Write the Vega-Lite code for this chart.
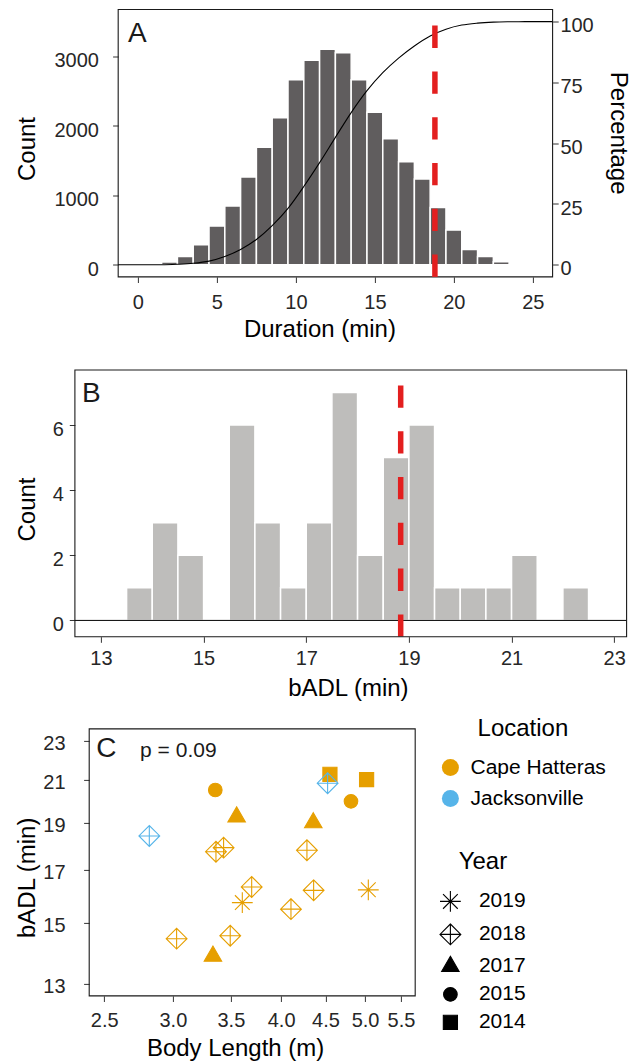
{
  "$schema": "https://vega.github.io/schema/vega-lite/v6.json",
  "background": "white",
  "padding": {"left": 14.9, "top": 8.5, "right": 0, "bottom": 0},
  "columns": 1,
  "spacing": 26.4,
  "resolve": {"legend": {"fill": "independent", "stroke": "independent", "shape": "independent", "size": "independent"}},
  "config": {
    "font": "Liberation Sans",
    "view": {"stroke": null},
    "axis": {"domain": false, "grid": false, "tickColor": "#333333", "tickWidth": 1, "tickSize": 5.6, "labelColor": "#262626", "labelFontSize": 20, "titleFontSize": 24, "titleFontWeight": "normal", "titleColor": "#000000", "labelFlush": false, "labelOverlap": false, "titlePadding": 0},
    "legend": {"titleFontSize": 24, "titleFontWeight": "normal", "titleColor": "#000000", "labelFontSize": 21, "labelColor": "#000000", "padding": 0, "titleAnchor": "middle", "titleAlign": "center", "titleBaseline": "middle"}
  },
  "concat": [
    {
      "columns": 1,
      "spacing": 27.5,
      "concat": [
        {
          "width": 477.7,
          "height": 267.4,
          "layer": [
            {
              "layer": [
                {
                  "data": {"values": [
                    {"start": 1.5, "end": 2.5, "count": 40}, {"start": 2.5, "end": 3.5, "count": 120}, {"start": 3.5, "end": 4.5, "count": 288}, {"start": 4.5, "end": 5.5, "count": 557}, {"start": 5.5, "end": 6.5, "count": 845}, {"start": 6.5, "end": 7.5, "count": 1263}, {"start": 7.5, "end": 8.5, "count": 1690}, {"start": 8.5, "end": 9.5, "count": 2117}, {"start": 9.5, "end": 10.5, "count": 2664}, {"start": 10.5, "end": 11.5, "count": 2943}, {"start": 11.5, "end": 12.5, "count": 3101}, {"start": 12.5, "end": 13.5, "count": 3053}, {"start": 13.5, "end": 14.5, "count": 2664}, {"start": 14.5, "end": 15.5, "count": 2194}, {"start": 15.5, "end": 16.5, "count": 1815}, {"start": 16.5, "end": 17.5, "count": 1483}, {"start": 17.5, "end": 18.5, "count": 1234}, {"start": 18.5, "end": 19.5, "count": 826}, {"start": 19.5, "end": 20.5, "count": 499}, {"start": 20.5, "end": 21.5, "count": 221}, {"start": 21.5, "end": 22.5, "count": 120}, {"start": 22.5, "end": 23.5, "count": 43}, {"start": 23.5, "end": 24.5, "count": 5}
                  ]},
                  "mark": {"type": "rect", "fill": "#605d5e", "stroke": "#ffffff", "strokeWidth": 1.5},
                  "encoding": {
                    "x": {"field": "start", "type": "quantitative", "scale": {"domain": [-3.9905, 26.25], "nice": false, "zero": false},
                      "axis": {"values": [0, 5, 10, 15, 20, 25], "title": "Duration (min)", "titleX": 244.5, "labelPadding": 9.5, "minExtent": 40.5, "maxExtent": 40.5}},
                    "x2": {"field": "end"},
                    "y": {"field": "count", "type": "quantitative", "scale": {"domain": [-175, 3675], "nice": false, "zero": false},
                      "axis": {"orient": "left", "offset": -43.3, "values": [0, 1000, 2000, 3000], "format": "d", "title": "Count", "titleY": 139, "labelPadding": 14.2, "labelOffset": 4.5, "minExtent": 78.4, "maxExtent": 78.4}},
                    "y2": {"datum": 0}
                  }
                },
                {
                  "data": {"values": [{"label": "A"}]},
                  "mark": {"type": "text", "align": "left", "baseline": "alphabetic", "fontSize": 28, "color": "#1a1a1a"},
                  "encoding": {"x": {"datum": -0.63}, "y": {"datum": 3207}, "text": {"field": "label"}}
                },
                {
                  "data": {"values": [{"panel": "A"}]},
                  "mark": {"type": "rect", "filled": false, "color": "#1a1a1a", "strokeWidth": 1.1},
                  "encoding": {"x": {"datum": -1.25}, "x2": {"datum": 26.25}, "y": {"datum": -175}, "y2": {"datum": 3675}}
                }
              ]
            },
            {
              "layer": [
                {
                  "data": {"values": [
                    {"x": -1.25, "pct": 0}, {"x": 1.5, "pct": 0}, {"x": 2.5, "pct": 0.2}, {"x": 3.5, "pct": 0.6}, {"x": 4.5, "pct": 1.5}, {"x": 5.5, "pct": 3.4}, {"x": 6.5, "pct": 6.3}, {"x": 7.5, "pct": 10.4}, {"x": 8.5, "pct": 16.1}, {"x": 9.5, "pct": 23.2}, {"x": 10.5, "pct": 32.2}, {"x": 11.5, "pct": 42.0}, {"x": 12.5, "pct": 52.4}, {"x": 13.5, "pct": 62.6}, {"x": 14.5, "pct": 71.6}, {"x": 15.5, "pct": 79.0}, {"x": 16.5, "pct": 85.0}, {"x": 17.5, "pct": 90.0}, {"x": 18.5, "pct": 94.1}, {"x": 19.5, "pct": 96.9}, {"x": 20.5, "pct": 98.6}, {"x": 21.5, "pct": 99.4}, {"x": 22.5, "pct": 99.8}, {"x": 23.5, "pct": 99.95}, {"x": 24.5, "pct": 100}, {"x": 26.25, "pct": 100}
                  ]},
                  "mark": {"type": "line", "color": "#000000", "strokeWidth": 1.1, "interpolate": "monotone", "clip": true},
                  "encoding": {
                    "x": {"field": "x", "type": "quantitative"},
                    "y": {"field": "pct", "type": "quantitative", "scale": {"domain": [-5, 105], "nice": false, "zero": false},
                      "axis": {"orient": "right", "values": [0, 25, 50, 75, 100], "title": "Percentage", "titleY": 123.2, "labelPadding": 1.7, "labelOffset": 4.2, "minExtent": 53.3, "maxExtent": 53.3}}
                  }
                },
                {
                  "data": {"values": [{"bADL": 18.8}]},
                  "mark": {"type": "rule", "color": "#e31f1f", "strokeWidth": 5.5, "strokeDash": [22.3, 23.5], "clip": true},
                  "encoding": {"x": {"field": "bADL", "type": "quantitative"}, "y": {"datum": -5}, "y2": {"datum": 105}}
                }
              ]
            }
          ],
          "resolve": {"scale": {"y": "independent"}}
        },
        {
          "width": 551.7,
          "height": 266.7,
          "layer": [
            {
              "data": {"values": [
                {"start": 13.5, "end": 14.0, "count": 1}, {"start": 14.0, "end": 14.5, "count": 3}, {"start": 14.5, "end": 15.0, "count": 2}, {"start": 15.5, "end": 16.0, "count": 6}, {"start": 16.0, "end": 16.5, "count": 3}, {"start": 16.5, "end": 17.0, "count": 1}, {"start": 17.0, "end": 17.5, "count": 3}, {"start": 17.5, "end": 18.0, "count": 7}, {"start": 18.0, "end": 18.5, "count": 2}, {"start": 18.5, "end": 19.0, "count": 5}, {"start": 19.0, "end": 19.5, "count": 6}, {"start": 19.5, "end": 20.0, "count": 1}, {"start": 20.0, "end": 20.5, "count": 1}, {"start": 20.5, "end": 21.0, "count": 1}, {"start": 21.0, "end": 21.5, "count": 2}, {"start": 22.0, "end": 22.5, "count": 1}
              ]},
              "mark": {"type": "rect", "fill": "#bebdbb", "stroke": "#ffffff", "strokeWidth": 1.5},
              "encoding": {
                "x": {"field": "start", "type": "quantitative", "scale": {"domain": [12.493, 23.241], "nice": false, "zero": false},
                  "axis": {"values": [13, 15, 17, 19, 21, 23], "title": "bADL (min)", "titleX": 273, "labelPadding": 6.2, "minExtent": 40.2, "maxExtent": 40.2}},
                "x2": {"field": "end"},
                "y": {"field": "count", "type": "quantitative", "scale": {"domain": [-0.5, 7.69], "nice": false, "zero": false},
                  "axis": {"values": [0, 2, 4, 6], "title": "Count", "titleY": 139, "labelPadding": 5.9, "labelOffset": 4.2, "minExtent": 35.1, "maxExtent": 35.1}},
                "y2": {"datum": 0}
              }
            },
            {
              "data": {"values": [{"level": 0}]},
              "mark": {"type": "rule", "color": "#000000", "strokeWidth": 1},
              "encoding": {"y": {"field": "level", "type": "quantitative"}}
            },
            {
              "data": {"values": [{"bADL": 18.84}]},
              "mark": {"type": "rule", "color": "#e31f1f", "strokeWidth": 5.5, "strokeDash": [22.3, 23.5], "clip": true},
              "encoding": {"x": {"field": "bADL", "type": "quantitative"}, "y": {"datum": -0.5}, "y2": {"datum": 7.69}}
            },
            {
              "data": {"values": [{"label": "B"}]},
              "mark": {"type": "text", "align": "left", "baseline": "alphabetic", "fontSize": 28, "color": "#1a1a1a"},
              "encoding": {"x": {"datum": 12.63}, "y": {"datum": 6.72}, "text": {"field": "label"}}
            },
            {
              "data": {"values": [{"panel": "B"}]},
              "mark": {"type": "rect", "filled": false, "color": "#1a1a1a", "strokeWidth": 1.1},
              "encoding": {"x": {"datum": 12.493}, "x2": {"datum": 23.241}, "y": {"datum": -0.5}, "y2": {"datum": 7.69}}
            }
          ]
        }
      ]
    },
    {
      "width": 340.3,
      "height": 267,
      "layer": [
        {
          "data": {"values": [
            {"location": "Cape Hatteras", "year": "2015", "length": 3.358, "badl": 20.51},
            {"location": "Cape Hatteras", "year": "2015", "length": 4.816, "badl": 19.97},
            {"location": "Cape Hatteras", "year": "2017", "length": 3.554, "badl": 19.25},
            {"location": "Cape Hatteras", "year": "2017", "length": 3.337, "badl": 13.88},
            {"location": "Cape Hatteras", "year": "2017", "length": 4.357, "badl": 18.99},
            {"location": "Cape Hatteras", "year": "2018", "length": 3.364, "badl": 17.74},
            {"location": "Cape Hatteras", "year": "2018", "length": 3.433, "badl": 17.91},
            {"location": "Cape Hatteras", "year": "2018", "length": 3.699, "badl": 16.33},
            {"location": "Cape Hatteras", "year": "2018", "length": 3.030, "badl": 14.46},
            {"location": "Cape Hatteras", "year": "2018", "length": 3.494, "badl": 14.56},
            {"location": "Cape Hatteras", "year": "2018", "length": 4.106, "badl": 15.50},
            {"location": "Cape Hatteras", "year": "2018", "length": 4.361, "badl": 16.20},
            {"location": "Cape Hatteras", "year": "2018", "length": 4.284, "badl": 17.80},
            {"location": "Cape Hatteras", "year": "2019", "length": 3.608, "badl": 15.74},
            {"location": "Cape Hatteras", "year": "2019", "length": 5.043, "badl": 16.22},
            {"location": "Cape Hatteras", "year": "2014", "length": 4.554, "badl": 21.28},
            {"location": "Cape Hatteras", "year": "2014", "length": 5.020, "badl": 21.02},
            {"location": "Jacksonville", "year": "2018", "length": 2.818, "badl": 18.41},
            {"location": "Jacksonville", "year": "2018", "length": 4.526, "badl": 20.84}
          ]},
          "mark": {"type": "point", "filled": true, "opacity": 1, "strokeWidth": 1.1},
          "encoding": {
            "x": {"field": "length", "type": "quantitative", "scale": {"type": "log", "domain": [2.3124, 5.712], "nice": false, "zero": false},
              "axis": {"values": [2.5, 3, 3.5, 4, 4.5, 5, 5.5], "format": ".1f", "title": "Body Length (m)", "titleX": 160.2, "labelPadding": 9.3, "minExtent": 41, "maxExtent": 41}},
            "y": {"field": "badl", "type": "quantitative", "scale": {"type": "log", "domain": [12.64, 23.68], "nice": false, "zero": false},
              "axis": {"offset": -14.3, "values": [13, 15, 17, 19, 21, 23], "title": "bADL (min)", "titleY": 148.4, "labelPadding": 18.6, "labelOffset": 2.6, "minExtent": 49.4, "maxExtent": 49.4}},
            "size": {"field": "location", "type": "nominal", "scale": {"domain": ["Cape Hatteras", "Jacksonville"], "range": [289, 289]},
              "legend": {"title": "Location", "orient": "right", "offset": 24.1, "titlePadding": 4.2, "labelOffset": 9.6, "symbolType": "circle", "symbolStrokeWidth": 0, "rowPadding": 9}},
            "fill": {"field": "location", "type": "nominal", "scale": {"domain": ["Cape Hatteras", "Jacksonville"], "range": ["#E69F00", "#56B4E9"]},
              "legend": {"title": "Location", "orient": "right", "offset": 24.1, "titlePadding": 4.2, "labelOffset": 9.6, "symbolType": "circle", "symbolStrokeWidth": 0, "rowPadding": 9}},
            "stroke": {"field": "location", "type": "nominal", "scale": {"domain": ["Cape Hatteras", "Jacksonville"], "range": ["#E69F00", "#56B4E9"]}, "legend": null},
            "shape": {"field": "year", "type": "nominal",
              "scale": {"domain": ["2019", "2018", "2017", "2015", "2014"], "range": [
                "M-1.2235,0L1.2235,0M0,-1.2235L0,1.2235M-0.8652,-0.8652L0.8652,0.8652M-0.8652,0.8652L0.8652,-0.8652",
                "M0,-1.2235L1.2235,0L0,1.2235L-1.2235,0ZM0,-1.2235L-1.2235,0L0,1.2235L1.2235,0ZM-1.2235,0L1.2235,0M0,-1.2235L0,1.2235",
                "M0,-1.187L1.028,0.593L-1.028,0.593Z",
                "M0.8,0C0.8,0.4418,0.4418,0.8,0,0.8C-0.4418,0.8,-0.8,0.4418,-0.8,0C-0.8,-0.4418,-0.4418,-0.8,0,-0.8C0.4418,-0.8,0.8,-0.4418,0.8,0Z",
                "M-0.832,-0.832L0.832,-0.832L0.832,0.832L-0.832,0.832Z"
              ]},
              "legend": {"title": ["", "Year"], "titleLineHeight": 45.4, "orient": "right", "offset": 24.1, "titlePadding": 4.6, "labelOffset": 18, "symbolSize": 289, "symbolFillColor": "#000000", "symbolStrokeColor": "#000000", "symbolStrokeWidth": 1.1, "rowPadding": 6,
                "encode": {"symbols": {"update": {"fill": {"value": "#000000"}, "stroke": {"value": "#000000"}, "strokeWidth": {"value": 1.1}, "opacity": {"value": 1}}}}}
            }
          }
        },
        {
          "data": {"values": [{"label": "C"}]},
          "mark": {"type": "text", "align": "left", "baseline": "alphabetic", "fontSize": 28, "color": "#1a1a1a"},
          "encoding": {"x": {"datum": 2.448}, "y": {"datum": 22.17}, "text": {"field": "label"}}
        },
        {
          "data": {"values": [{"label": "p = 0.09"}]},
          "mark": {"type": "text", "align": "left", "baseline": "alphabetic", "fontSize": 21, "color": "#1a1a1a"},
          "encoding": {"x": {"datum": 2.75}, "y": {"datum": 22.15}, "text": {"field": "label"}}
        },
        {
          "data": {"values": [{"panel": "C"}]},
          "mark": {"type": "rect", "filled": false, "color": "#1a1a1a", "strokeWidth": 1.1},
          "encoding": {"x": {"datum": 2.402}, "x2": {"datum": 5.712}, "y": {"datum": 12.64}, "y2": {"datum": 23.68}}
        }
      ]
    }
  ]
}
